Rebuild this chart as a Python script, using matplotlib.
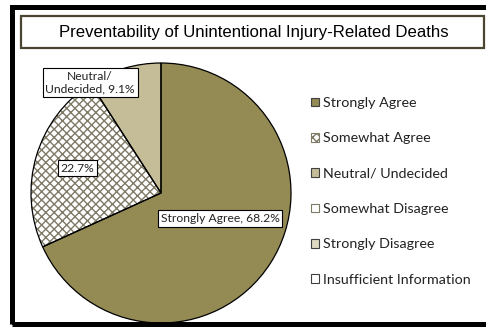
import matplotlib
matplotlib.use("Agg")
import matplotlib.pyplot as plt
from matplotlib.patches import Patch, Rectangle

# survey responses
categories = ["Strongly Agree", "Somewhat Agree", "Neutral/ Undecided",
              "Somewhat Disagree", "Strongly Disagree", "Insufficient Information"]
shares = [68.2, 22.7, 9.1, 0.0, 0.0, 0.0]
slice_labels = ["Strongly Agree, 68.2%", "22.7%", "Neutral/\nUndecided, 9.1%"]

fills = ["#948A54", "white", "#C4BD97", "white", "#DDD9C3", "white"]
hatches = [None, "xxxx", None, ".", None, None]
hatch_col = "#7F7A66"

W, H = 486, 329
fig = plt.figure(figsize=(W / 100, H / 100), dpi=100)
plt.rcParams["hatch.linewidth"] = 1.0


def px(x0, y0, x1, y1):
    # pixel box (top-left origin) -> figure fraction rect
    return [x0 / W, 1 - y1 / H, (x1 - x0) / W, (y1 - y0) / H]


# outer frame, runs off the right edge
fig.patches.append(Rectangle((11.5 / W, 1 - 323.5 / H), 1.2, (323.5 - 7) / H,
                             transform=fig.transFigure, fill=False,
                             edgecolor="black", lw=3.6))

# title box
tx0, ty0, tx1, ty1 = 21, 16, 484, 48
fig.patches.append(Rectangle((tx0 / W, 1 - ty1 / H), (tx1 - tx0) / W, (ty1 - ty0) / H,
                             transform=fig.transFigure, facecolor="white",
                             edgecolor="#4A4530", lw=1.6))
fig.text((tx0 + 2 + tx1) / 2 / W, 1 - 32.5 / H,
         "Preventability of Unintentional Injury-Related Deaths",
         ha="center", va="center", fontsize=12.1, family="Liberation Sans")

# pie
cx, cy, r = 161, 193, 130
ax = fig.add_axes(px(cx - r, cy - r, cx + r, cy + r))
vals = [v for v in shares if v > 0]
n = len(vals)
wedges, _ = ax.pie(vals, colors=fills[:n], startangle=90, counterclock=False,
                   radius=1.0, wedgeprops=dict(linewidth=0))
for w, h in zip(wedges, hatches[:n]):
    if h:
        w.set_hatch(h)
        w.set_edgecolor(hatch_col)
ax.pie(vals, colors=["none"] * n, startangle=90, counterclock=False, radius=1.0,
       wedgeprops=dict(linewidth=0.9, edgecolor="black"))
ax.set_xlim(-1, 1)
ax.set_ylim(-1, 1)
ax.set_aspect("equal")
ax.axis("off")

# data labels, placed relative to the pie centre
label_pos = [(0.455, -0.195), (-0.645, 0.19), (-0.545, 0.85)]
for txt, (lx, ly) in zip(slice_labels, label_pos):
    ax.text(lx, ly, txt, ha="center", va="center", fontsize=8.7, family="Lato",
            color="#222222", linespacing=1.2,
            bbox=dict(boxstyle="square,pad=0.22", facecolor="white",
                      edgecolor="black", lw=0.8))

# legend
handles = []
for c, f, h in zip(categories, fills, hatches):
    handles.append(Patch(facecolor=f, edgecolor="#404040" if h is None else hatch_col,
                         hatch=h, lw=0.8, label=c))
leg = fig.legend(handles=handles, loc="upper left",
                 bbox_to_anchor=(301 / W, 1 - 87 / H),
                 frameon=False, prop=dict(family="Lato", size=10.3),
                 handlelength=0.55, handleheight=0.55, handletextpad=0.3,
                 labelspacing=1.63, borderpad=0.2)
for t in leg.get_texts():
    t.set_color("#222222")

fig.savefig("out.png", dpi=100)
